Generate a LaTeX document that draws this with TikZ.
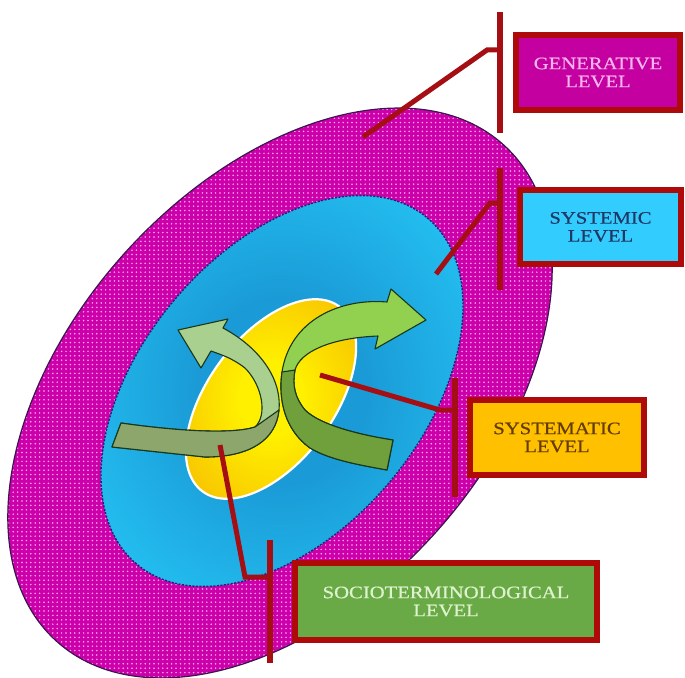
\documentclass[tikz,border=0pt]{standalone}
\usepackage{fontspec}
\newfontfamily\lblfont[FakeStretch=1.18,FakeBold=0.6]{Liberation Serif}
\usetikzlibrary{patterns}
\definecolor{magF}{RGB}{204,0,170}
\definecolor{dotC}{RGB}{255,175,238}
\definecolor{rimC}{RGB}{60,20,80}
\definecolor{blueD}{RGB}{26,154,214}
\definecolor{blueL}{RGB}{36,192,242}
\definecolor{navy}{RGB}{30,35,120}
\definecolor{yelC}{RGB}{255,240,0}
\definecolor{golC}{RGB}{246,184,0}
\definecolor{aOneL}{RGB}{169,208,142}
\definecolor{aOneD}{RGB}{141,166,108}
\definecolor{aTwoL}{RGB}{146,208,80}
\definecolor{aTwoD}{RGB}{112,160,60}
\definecolor{edgeG}{RGB}{25,55,25}
\definecolor{conC}{RGB}{165,15,20}
\definecolor{boxR}{RGB}{175,10,10}
\definecolor{genF}{RGB}{196,0,160}
\definecolor{genT}{RGB}{245,180,235}
\definecolor{sysF}{RGB}{51,204,255}
\definecolor{sysT}{RGB}{31,56,100}
\definecolor{stmF}{RGB}{255,192,0}
\definecolor{stmT}{RGB}{100,60,0}
\definecolor{socF}{RGB}{106,170,70}
\definecolor{socT}{RGB}{222,242,205}
\pgfdeclarepatternformonly{mydots}{\pgfqpoint{-1pt}{-1pt}}{\pgfqpoint{1pt}{1pt}}{\pgfqpoint{4.4pt}{4.4pt}}{\pgfpathcircle{\pgfqpoint{0pt}{0pt}}{0.85pt}\pgfusepath{fill}}
\pgfdeclareradialshading{blueshade}{\pgfpoint{0bp}{0bp}}{color(0bp)=(blueD); color(10bp)=(blueD); color(28bp)=(blueL); color(50bp)=(blueL)}
\pgfdeclareradialshading{yelshade}{\pgfpoint{0bp}{0bp}}{color(0bp)=(yelC); color(8bp)=(yelC); color(34bp)=(golC); color(50bp)=(golC)}
\begin{document}
\begin{tikzpicture}[x=1pt,y=-1pt,
  lvlbox/.style={draw=boxR, line width=5.5pt, inner sep=0pt, align=center,
    font=\lblfont\fontsize{17.5}{18}\selectfont},
  bar/.style={draw=conC, line width=6pt},
  link/.style={draw=conC, line width=5pt, line join=miter},
  arrowedge/.style={draw=edgeG, line width=1.1pt, line join=round}]
\useasboundingbox (0,0) rectangle (685,677);
% outer generative ellipse
\fill[magF, rotate around={48:(280,393)}] (280,393) ellipse [x radius=334, y radius=209];
\fill[pattern=mydots, pattern color=dotC, rotate around={48:(280,393)}] (280,393) ellipse [x radius=334, y radius=209];
\draw[rimC, line width=1.2pt, rotate around={48:(280,393)}] (280,393) ellipse [x radius=334, y radius=209];
% systemic ellipse
\shade[shading=blueshade, rotate around={50:(282,391)}] (282,391) ellipse [x radius=226, y radius=141];
\draw[navy, line width=1.4pt, dash pattern=on 2pt off 1.5pt, rotate around={50:(282,391)}] (282,391) ellipse [x radius=226, y radius=141];
% systematic ellipse
\shade[shading=yelshade, rotate around={53.5:(271,399)}] (271,399) ellipse [x radius=115, y radius=63];
\draw[white, line width=2.2pt, rotate around={53.5:(271,399)}] (271,399) ellipse [x radius=115, y radius=63];
% arrow one
\path[fill=aOneL, arrowedge] (178,330) -- (228,319) -- (223,328)
  .. controls (255,345) and (282,375) .. (279,410)
  .. controls (276,440) and (250,457) .. (205,457)
  -- (112,447) -- (121,423)
  .. controls (170,430) and (230,435) .. (255,427)
  .. controls (268,415) and (262,385) .. (245,368)
  .. controls (232,358) and (222,355) .. (211,351)
  -- (201,368) -- cycle;
\path[fill=aOneD, arrowedge] (255,427) -- (279,410)
  .. controls (276,440) and (250,457) .. (205,457)
  -- (112,447) -- (121,423)
  .. controls (170,430) and (230,435) .. (255,427) -- cycle;
% arrow two
\path[fill=aTwoL, arrowedge] (426,320) -- (391,289) -- (387,302)
  .. controls (340,298) and (290,320) .. (282,372)
  .. controls (278,400) and (285,430) .. (310,448)
  .. controls (330,460) and (360,465) .. (387,470)
  -- (393,440)
  .. controls (360,435) and (320,425) .. (305,410)
  .. controls (295,398) and (292,385) .. (295,370)
  .. controls (300,352) and (330,338) .. (378,336)
  -- (375,349) -- cycle;
\path[fill=aTwoD, arrowedge] (282,372)
  .. controls (278,400) and (285,430) .. (310,448)
  .. controls (330,460) and (360,465) .. (387,470)
  -- (393,440)
  .. controls (360,435) and (320,425) .. (305,410)
  .. controls (295,398) and (292,385) .. (295,370) -- cycle;
% boxes
\node[lvlbox, fill=genF, text=genT, minimum width=164pt, minimum height=75pt] (gen) at (598,72.5) {GENERATIVE\\LEVEL};
\node[lvlbox, fill=sysF, text=sysT, minimum width=161pt, minimum height=74pt] (sys) at (600.5,227) {SYSTEMIC\\LEVEL};
\node[lvlbox, fill=stmF, text=stmT, minimum width=174pt, minimum height=75pt] (stm) at (557,437.5) {SYSTEMATIC\\LEVEL};
\node[lvlbox, fill=socF, text=socT, minimum width=302pt, minimum height=77pt] (soc) at (446,601.5) {SOCIOTERMINOLOGICAL\\LEVEL};
% connectors
\coordinate (gTop) at (500,12); \coordinate (gBot) at (500,133);
\coordinate (gJ) at (500,50); \coordinate (gK) at (487,50); \coordinate (gP) at (363,137);
\draw[bar] (gTop) -- (gBot);
\draw[link] (gJ) -- (gK) -- (gP);
\coordinate (sTop) at (500,168); \coordinate (sBot) at (500,290);
\coordinate (sJ) at (500,203); \coordinate (sK) at (490,203); \coordinate (sP) at (436,274);
\draw[bar] (sTop) -- (sBot);
\draw[link] (sJ) -- (sK) -- (sP);
\coordinate (tTop) at (455,378); \coordinate (tBot) at (455,497);
\coordinate (tJ) at (455,410); \coordinate (tK) at (440,410); \coordinate (tP) at (320,375);
\draw[bar] (tTop) -- (tBot);
\draw[link] (tJ) -- (tK) -- (tP);
\coordinate (cTop) at (270,540); \coordinate (cBot) at (270,663);
\coordinate (cJ) at (270,577); \coordinate (cK) at (245,577); \coordinate (cP) at (220,445);
\draw[bar] (cTop) -- (cBot);
\draw[link] (cJ) -- (cK) -- (cP);
\end{tikzpicture}
\end{document}
